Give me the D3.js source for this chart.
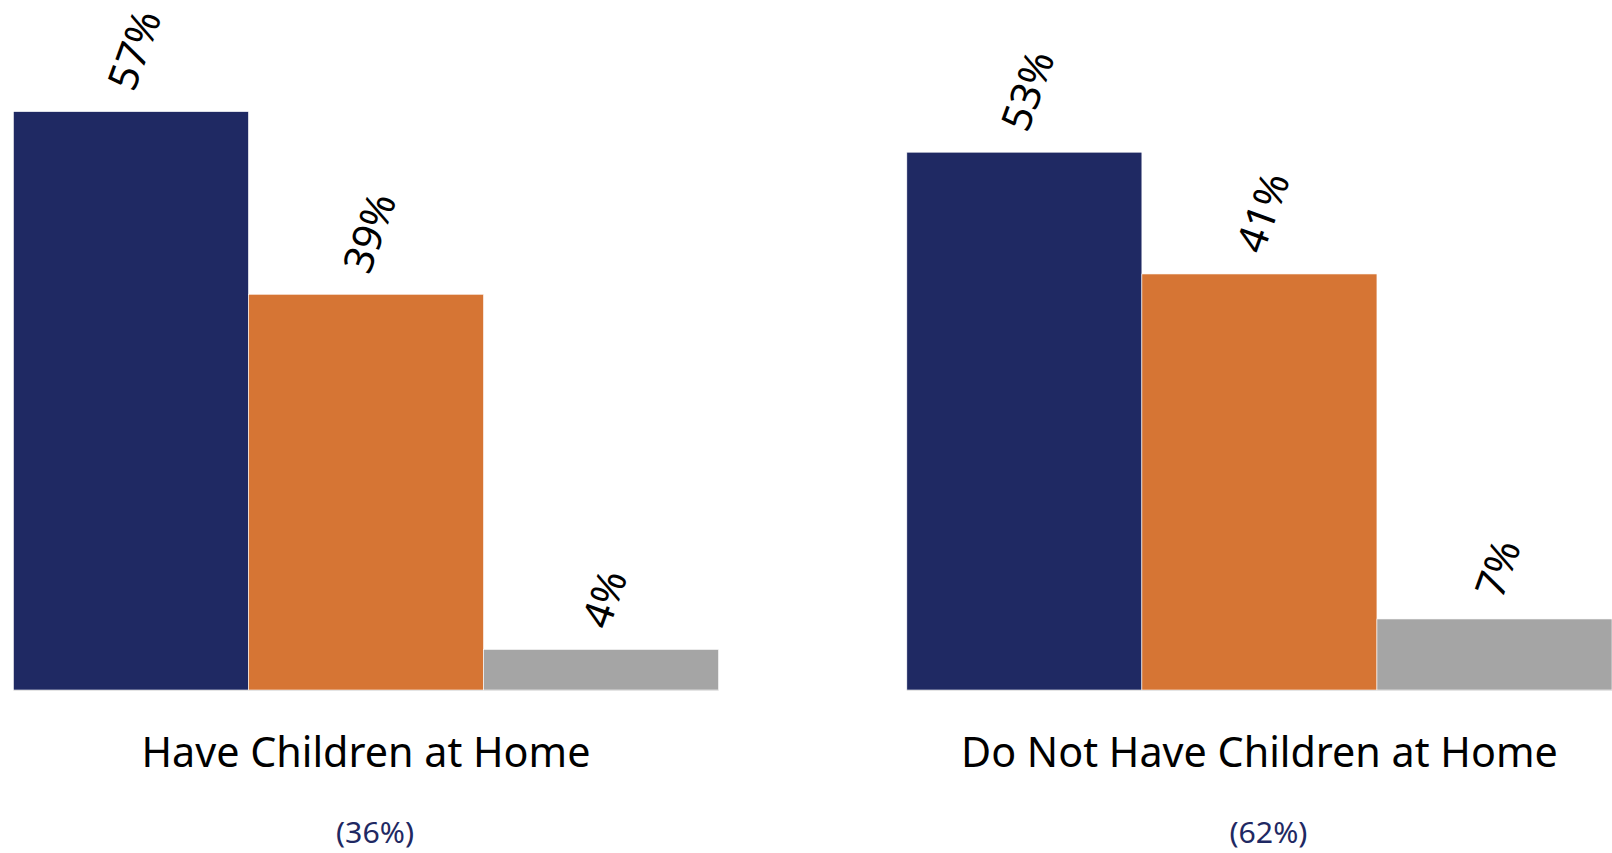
<!DOCTYPE html>
<html>
<head>
<meta charset="utf-8">
<script src="https://cdn.jsdelivr.net/npm/d3@7"></script>
<style>
  html, body { margin: 0; padding: 0; background: #ffffff; }
  svg { display: block; }
</style>
</head>
<body>
<svg id="chart" width="1612" height="853"></svg>
<script>
// ---- data ----
const groups = ["Have Children at Home", "Do Not Have Children at Home"];
const groupShares = ["(36%)", "(62%)"];
const seriesNames = ["A", "B", "C"];
const haveChildren = [57, 39, 4];
const noChildren = [53, 41, 7];
const seriesColors = ["#1F2963", "#D67534", "#A5A5A5"];

const values = [haveChildren, noChildren];

const svg = d3.select("#chart");
const baseY = 690;

const x0 = d3.scaleBand().domain(groups).range([13.4, 1612]).paddingInner(0.2107).paddingOuter(0);
const x1 = d3.scaleBand().domain(seriesNames).range([0, x0.bandwidth()]).padding(0);
const y = d3.scaleLinear().domain([0, 68]).range([baseY, 0]);

const fontStack = "'Noto Sans', 'Open Sans', sans-serif";

const g = svg.selectAll("g.group").data(groups).join("g")
  .attr("class", "group")
  .attr("transform", d => `translate(${x0(d)},0)`);

// baseline
g.append("line")
  .attr("x1", 0).attr("x2", x0.bandwidth())
  .attr("y1", baseY + 0.5).attr("y2", baseY + 0.5)
  .attr("stroke", "#d9d9d9").attr("stroke-width", 1);

// bars
g.selectAll("rect").data((d, i) => values[i].map((v, j) => ({ v, s: seriesNames[j], j })))
  .join("rect")
  .attr("x", d => x1(d.s))
  .attr("width", x1.bandwidth())
  .attr("y", d => y(d.v))
  .attr("height", d => y(0) - y(d.v))
  .attr("fill", d => seriesColors[d.j])
  .attr("stroke", "#ffffff").attr("stroke-width", 0.6);

// rotated value labels
const angle = 70;
const rad = angle * Math.PI / 180;
g.selectAll("text.val").data((d, i) => values[i].map((v, j) => ({ v, s: seriesNames[j], j })))
  .join("text")
  .attr("class", "val")
  .attr("font-family", fontStack)
  .attr("font-size", 41)
  .attr("fill", "#000")
  .attr("text-anchor", "middle")
  .attr("dominant-baseline", "central")
  .text(d => d.v + "%")
  .each(function(d) {
    const L = this.getComputedTextLength();
    const cx = x1(d.s) + x1.bandwidth() / 2 + 2;
    const cy = y(d.v) - 24 - (L / 2) * Math.sin(rad);
    d3.select(this).attr("transform", `translate(${cx},${cy}) rotate(${-angle})`);
  });

// category labels
const catText = g.append("text")
  .attr("x", x0.bandwidth() / 2)
  .attr("y", 767)
  .attr("text-anchor", "middle")
  .attr("font-family", fontStack)
  .attr("font-size", 42)
  .attr("fill", "#000")
  .text(d => d);
const natLeft = catText.nodes()[0].getComputedTextLength();
const k = 449 / natLeft;
catText.each(function() {
  const L = this.getComputedTextLength();
  d3.select(this).attr("textLength", L * k).attr("lengthAdjust", "spacingAndGlyphs");
});

// share labels
g.append("text")
  .attr("x", x0.bandwidth() / 2 + 9)
  .attr("y", 843)
  .attr("text-anchor", "middle")
  .attr("font-family", fontStack)
  .attr("font-size", 29)
  .attr("fill", "#1F2963")
  .attr("textLength", 78)
  .attr("lengthAdjust", "spacingAndGlyphs")
  .text((d, i) => groupShares[i]);
</script>
</body>
</html>
